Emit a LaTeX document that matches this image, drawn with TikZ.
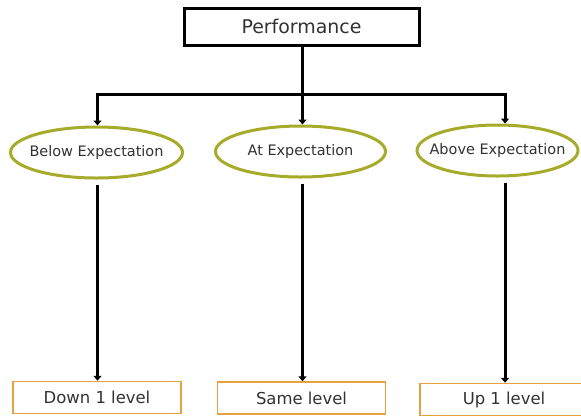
\documentclass[tikz,border=0pt]{standalone}
\usepackage{fontspec}
\setmainfont{DejaVu Sans}
\usetikzlibrary{arrows.meta,shapes.geometric}
\definecolor{ovalgreen}{RGB}{166,172,42}
\definecolor{boxorange}{RGB}{230,162,66}
\definecolor{txtgray}{RGB}{50,50,50}
\tikzset{
  topbox/.style={
    rectangle, draw=black, line width=3bp, fill=white, text=txtgray,
    font=\fontsize{19}{21}\selectfont, minimum width=235bp, minimum height=37bp},
  oval/.style={
    ellipse, draw=ovalgreen, line width=3bp, fill=white, text=txtgray,
    font=\fontsize{14.5}{16}\selectfont, inner xsep=-12bp, inner ysep=0pt,
    minimum width=#1, minimum height=51bp},
  result/.style={
    rectangle, draw=boxorange, line width=1.5bp, fill=white, text=txtgray,
    font=\fontsize{16.5}{18}\selectfont, minimum width=168bp, minimum height=32bp},
  link/.style={line width=3bp, draw=black},
  tip/.style={link, -{Triangle[width=8bp,length=5bp]}},
}

\begin{document}
\begin{tikzpicture}[x=1bp, y=-1bp]
\useasboundingbox (0,0) rectangle (581,416);

%% Top
\node[topbox] (perf) at (301.5,26.5) {Performance};

%% Middle row
\node[oval=172bp] (below) at ( 96.5,152.5) {Below Expectation};
\node[oval=170bp] (at)    at (300.5,151.5) {At Expectation};
\node[oval=161bp] (above) at (497.5,150.5) {Above Expectation};

%% Bottom row
\node[result] (down) at ( 97.0,397.5) {Down 1 level};
\node[result] (same) at (301.5,398.0) {Same level};
\node[result] (up)   at (504.0,399.5) {Up 1 level};

%% Branch bar
\coordinate (hub) at (302.5,94.5);
\coordinate (bl)  at ( 97.5,94.5);
\coordinate (br)  at (505.0,94.5);
\draw[link] (perf.south -| hub) -- (hub);
\draw[link, line cap=rect] (bl) -- (br);

% bar -> ovals
\draw[tip] (bl)  -- (bl |- below.north);
\draw[tip] (hub) -- (hub |- at.north);
\draw[tip] (br)  -- (br |- above.north);

% ovals -> results
\draw[tip] ([yshift=-5bp]below.south -| bl) -- (down.north -| bl);
\draw[tip] ([yshift=-5bp]at.south -| hub)   -- (same.north -| hub);
\draw[tip] ([yshift=-5bp]above.south -| br) -- (up.north -| br);
\end{tikzpicture}
\end{document}
